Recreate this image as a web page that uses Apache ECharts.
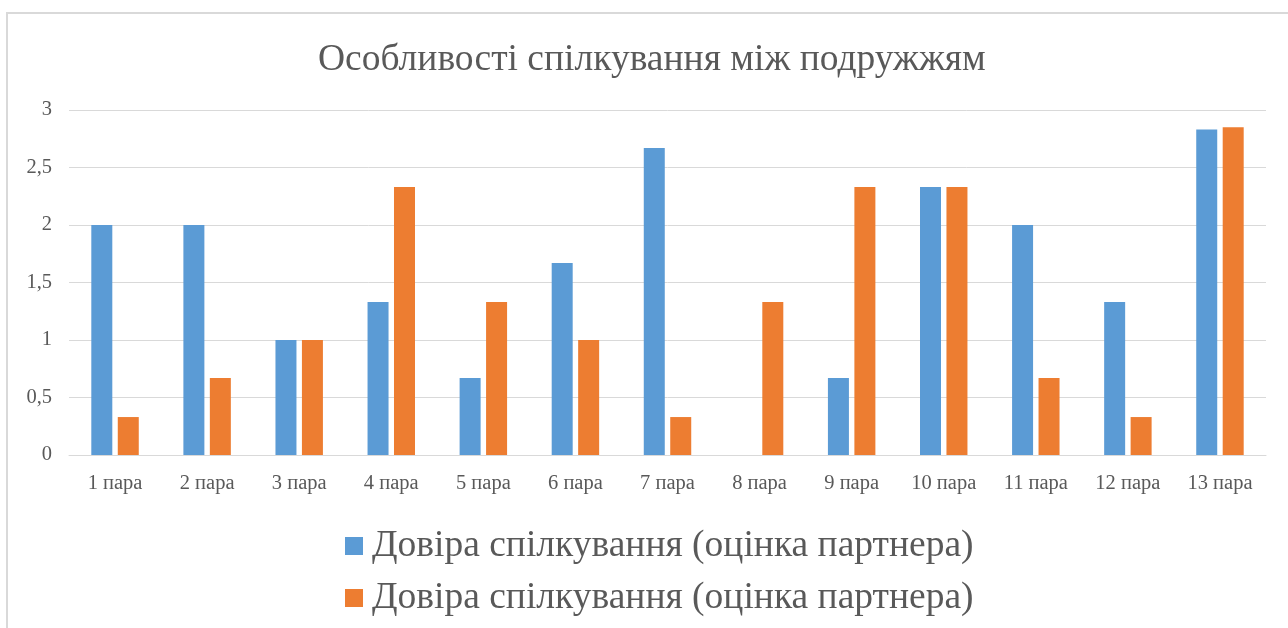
<!DOCTYPE html>
<html>
<head>
<meta charset="utf-8">
<script src="https://cdn.jsdelivr.net/npm/echarts@6/dist/echarts.min.js"></script>
<style>html,body{margin:0;padding:0;background:#fff;}#c{width:1288px;height:628px;}</style>
</head>
<body>
<div id="c"></div>
<script>
var categories = ['1 пара','2 пара','3 пара','4 пара','5 пара','6 пара','7 пара','8 пара','9 пара','10 пара','11 пара','12 пара','13 пара'];
var seriesNames = ['Довіра спілкування (оцінка партнера)', 'Довіра спілкування (оцінка партнера) '];
var seriesA = [2, 2, 1, 1.33, 0.67, 1.67, 2.67, 0, 0.67, 2.33, 2, 1.33, 2.83];
var seriesB = [0.33, 0.67, 1, 2.33, 1.33, 1, 0.33, 1.33, 2.33, 2.33, 0.67, 0.33, 2.85];
var yTicks = [0, 0.5, 1, 1.5, 2, 2.5, 3];

var chart = echarts.init(document.getElementById('c'), null, {renderer: 'canvas'});
var font = '"Liberation Serif", "DejaVu Serif", serif';
chart.setOption({
  animation: false,
  backgroundColor: '#fff',
  title: {
    text: 'Особливості спілкування між подружжям',
    left: 313, top: 36,
    textStyle: {fontFamily: font, fontSize: 37.5, fontWeight: 'normal', color: '#595959'}
  },
  graphic: [
    {type: 'line', shape: {x1: 6, y1: 13, x2: 1288, y2: 13}, style: {stroke: '#d9d9d9', lineWidth: 2}},
    {type: 'line', shape: {x1: 7, y1: 13, x2: 7, y2: 628}, style: {stroke: '#d9d9d9', lineWidth: 2}}
  ],
  legend: {
    orient: 'vertical',
    left: 340, top: 522,
    itemWidth: 18, itemHeight: 18, itemGap: 14,
    icon: 'rect',
    data: seriesNames,
    textStyle: {fontFamily: font, fontSize: 37.5, color: '#595959', padding: [0,0,0,4]}
  },
  grid: {left: 69, right: 22, top: 110, bottom: 173, containLabel: false},
  xAxis: {
    type: 'category', data: categories,
    axisLine: {lineStyle: {color: '#d9d9d9', width: 1}},
    axisTick: {show: false},
    axisLabel: {fontFamily: font, fontSize: 20.5, color: '#595959', margin: 18}
  },
  yAxis: {
    type: 'value', min: 0, max: 3, interval: 0.5,
    axisLine: {show: false}, axisTick: {show: false},
    splitLine: {lineStyle: {color: '#d9d9d9', width: 1}},
    axisLabel: {fontFamily: font, fontSize: 20.5, color: '#595959', margin: 17,
      formatter: function(v){ return yTicks.indexOf(v) >= 0 ? String(v).replace('.', ',') : ''; }}
  },
  series: [
    {name: seriesNames[0], type: 'bar', data: seriesA, barWidth: 21, barGap: '26%',
     itemStyle: {color: '#5b9bd5'}},
    {name: seriesNames[1], type: 'bar', data: seriesB, barWidth: 21,
     itemStyle: {color: '#ed7d31'}}
  ]
});
</script>
</body>
</html>
